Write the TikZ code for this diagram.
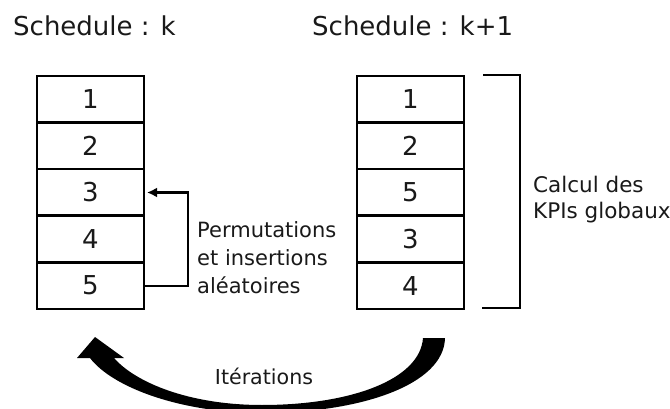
\documentclass[tikz,border=0pt]{standalone}
\usepackage{fontspec}
\setmainfont{DejaVu Sans}
\usetikzlibrary{arrows.meta, positioning}

\begin{document}
\begin{tikzpicture}[x=1pt, y=-1pt,
    every node/.style={text=black!90},
    cell/.style={draw, line width=2.6pt, minimum width=107pt, minimum height=46.6pt, inner sep=0pt, outer sep=0pt, font=\fontsize{26}{31}\selectfont},
    title/.style={anchor=base west, inner sep=0pt, font=\fontsize{26}{31}\selectfont},
    note/.style={align=left, inner sep=0pt, font=\fontsize{21}{28}\selectfont}]
    \useasboundingbox (0,0) rectangle (670,409);

    % Titles
    \node[title] (titlek) at (13,36) {Schedule : k};
    \node[title] (titlek1) at (312,36) {Schedule : k+1};

    % Schedule k (left column)
    \node[cell] (k1) at (90.5,99.3) {1};
    \node[cell, below=0pt of k1] (k2) {2};
    \node[cell, below=0pt of k2] (k3) {3};
    \node[cell, below=0pt of k3] (k4) {4};
    \node[cell, below=0pt of k4] (k5) {5};

    % Schedule k+1 (right column)
    \node[cell] (n1) at (410.5,99.3) {1};
    \node[cell, below=0pt of n1] (n2) {2};
    \node[cell, below=0pt of n2] (n3) {5};
    \node[cell, below=0pt of n3] (n4) {3};
    \node[cell, below=0pt of n4] (n5) {4};

    % Move of task 5
    \draw[line width=2.1pt, -{Latex[length=10pt, width=10pt]}, shorten >=3pt] (k5.east) -- ++(44,0) |- (k3.east);
    \node[note, anchor=west] (perm) at (197,258) {Permutations\\et insertions\\aléatoires};

    % Bracket
    \draw[line width=2.8pt] (483,75) -| (520,308) -- (482,308);
    \node[note, anchor=west, font=\fontsize{21.5}{26}\selectfont] (kpi) at (533,200) {Calcul des\\KPIs globaux};

    % Iterations
    \fill (423,338) -- (445,338) .. controls (444,385) and (360,413) .. (262,413)
        .. controls (180,413) and (112,387) .. (90,358) -- (77,358) -- (95,337) -- (124,358) -- (114,358)
        .. controls (136,383) and (190,405) .. (262,405) .. controls (350,405) and (420,380) .. (423,338) -- cycle;
    \node[font=\fontsize{20.6}{24}\selectfont] (iter) at (264,376) {Itérations};
\end{tikzpicture}
\end{document}
